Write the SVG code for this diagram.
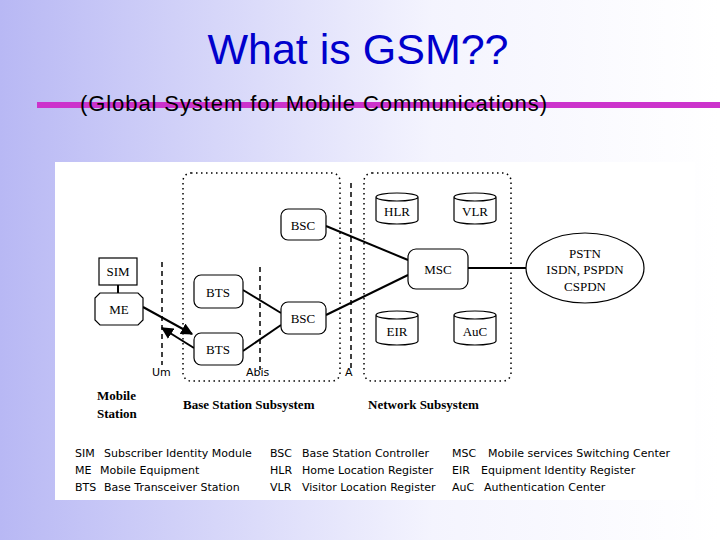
<svg xmlns="http://www.w3.org/2000/svg" width="720" height="540" viewBox="0 0 720 540">
<defs>
<linearGradient id="bg" x1="0" y1="0" x2="1" y2="0"><stop offset="0" stop-color="#b8b8f4"/><stop offset="0.6" stop-color="#f4f4fe"/><stop offset="1" stop-color="#ffffff"/></linearGradient>
<marker id="ah" viewBox="0 0 10 10" refX="9" refY="5" markerWidth="6" markerHeight="6" orient="auto"><path d="M0,0 L10,5 L0,10 z" fill="#000"/></marker>
</defs>
<style>
.n{fill:#fff;stroke:#000;stroke-width:1.2}
.t{font-family:"Liberation Serif",serif;font-size:13px;text-anchor:middle}
.b{font-family:"Liberation Serif",serif;font-size:13px;font-weight:bold}
.s{font-family:"DejaVu Sans",sans-serif;font-size:11px}
.dot{fill:none;stroke:#000;stroke-width:1.5;stroke-dasharray:1.5 3.5}
.dash{stroke:#000;stroke-width:1.5;stroke-dasharray:5 4}
.l{stroke:#000;stroke-width:2;fill:none}
</style>
<rect width="720" height="540" fill="url(#bg)"/>
<text x="358" y="64" font-family="Liberation Sans,sans-serif" font-size="43" fill="#0000cc" text-anchor="middle">What is GSM??</text>
<rect x="37" y="102" width="683" height="6" fill="#cc33cc"/>
<text x="80" y="111" font-family="Liberation Sans,sans-serif" font-size="22" fill="#000" textLength="467">(Global System for Mobile Communications)</text>
<rect x="55" y="162" width="640" height="338" fill="#fff"/>
<rect class="dot" x="183" y="173" width="157" height="208" rx="8"/>
<rect class="dot" x="364" y="173" width="147" height="208" rx="8"/>
<line class="dash" x1="162" y1="262" x2="162" y2="365"/>
<line class="dash" x1="260" y1="267" x2="260" y2="370"/>
<line class="dash" x1="351" y1="183" x2="351" y2="370"/>
<g id="connectors">
<line class="l" x1="118" y1="285" x2="118" y2="293" stroke-width="3"/>
<line class="l" x1="326" y1="226" x2="408" y2="260"/>
<line class="l" x1="326" y1="315" x2="408" y2="275"/>
<line class="l" x1="468" y1="268" x2="526" y2="268"/>
<line class="l" x1="243" y1="290" x2="281" y2="313"/>
<line class="l" x1="243" y1="351" x2="281" y2="325"/>
<line class="l" x1="143" y1="307" x2="192" y2="334" marker-end="url(#ah)"/>
<line class="l" x1="194" y1="348" x2="162" y2="328" marker-end="url(#ah)"/>
</g>
<g id="SIM"><rect class="n" x="99" y="258" width="38" height="27"/><text class="t" x="118" y="276">SIM</text></g>
<g id="ME"><path class="n" d="M100,293 H138 L143,298 V320 L138,325 H100 L95,320 V298 Z"/><text class="t" x="119" y="314">ME</text></g>
<g id="BTS1"><rect class="n" x="194" y="275" width="49" height="33" rx="7"/><text class="t" x="218" y="297">BTS</text></g>
<g id="BTS2"><rect class="n" x="194" y="333" width="49" height="32" rx="7"/><text class="t" x="218" y="354">BTS</text></g>
<g id="BSC1"><rect class="n" x="281" y="209" width="45" height="31" rx="7"/><text class="t" x="303" y="230">BSC</text></g>
<g id="BSC2"><rect class="n" x="281" y="302" width="45" height="32" rx="7"/><text class="t" x="303" y="323">BSC</text></g>
<g id="MSC"><rect class="n" x="408" y="249" width="60" height="40" rx="8"/><text class="t" x="438" y="274">MSC</text></g>
<g id="HLR"><path class="n" d="M376,197 V220 A21,4 0 0 0 418,220 V197 A21,4 0 0 0 376,197 A21,4 0 0 0 418,197"/><text class="t" x="397" y="216">HLR</text></g>
<g id="VLR"><path class="n" d="M454,197 V220 A21,4 0 0 0 496,220 V197 A21,4 0 0 0 454,197 A21,4 0 0 0 496,197"/><text class="t" x="475" y="216">VLR</text></g>
<g id="EIR"><path class="n" d="M376,315 V341 A21,4 0 0 0 418,341 V315 A21,4 0 0 0 376,315 A21,4 0 0 0 418,315"/><text class="t" x="397" y="336">EIR</text></g>
<g id="AuC"><path class="n" d="M454,315 V341 A21,4 0 0 0 496,341 V315 A21,4 0 0 0 454,315 A21,4 0 0 0 496,315"/><text class="t" x="475" y="336">AuC</text></g>
<g id="PSTN"><ellipse class="n" cx="585" cy="268" rx="59" ry="35"/><text class="t" x="585" y="258">PSTN</text><text class="t" x="585" y="274">ISDN, PSPDN</text><text class="t" x="585" y="291">CSPDN</text></g>
<text class="s" x="152" y="376" font-size="13">Um</text>
<text class="s" x="246" y="376" font-size="13">Abis</text>
<text class="s" x="345" y="376" font-size="13">A</text>
<text class="b" x="97" y="400">Mobile</text>
<text class="b" x="97" y="418">Station</text>
<text class="b" x="183" y="409">Base Station Subsystem</text>
<text class="b" x="368" y="409">Network Subsystem</text>
<g class="s">
<text x="75" y="457">SIM</text><text x="104" y="457">Subscriber Identity Module</text>
<text x="75" y="474">ME</text><text x="100" y="474">Mobile Equipment</text>
<text x="75" y="491">BTS</text><text x="104" y="491">Base Transceiver Station</text>
<text x="270" y="457">BSC</text><text x="302" y="457">Base Station Controller</text>
<text x="270" y="474">HLR</text><text x="302" y="474">Home Location Register</text>
<text x="270" y="491">VLR</text><text x="302" y="491">Visitor Location Register</text>
<text x="452" y="457">MSC</text><text x="488" y="457">Mobile services Switching Center</text>
<text x="452" y="474">EIR</text><text x="481" y="474">Equipment Identity Register</text>
<text x="452" y="491">AuC</text><text x="484" y="491">Authentication Center</text>
</g>
</svg>
